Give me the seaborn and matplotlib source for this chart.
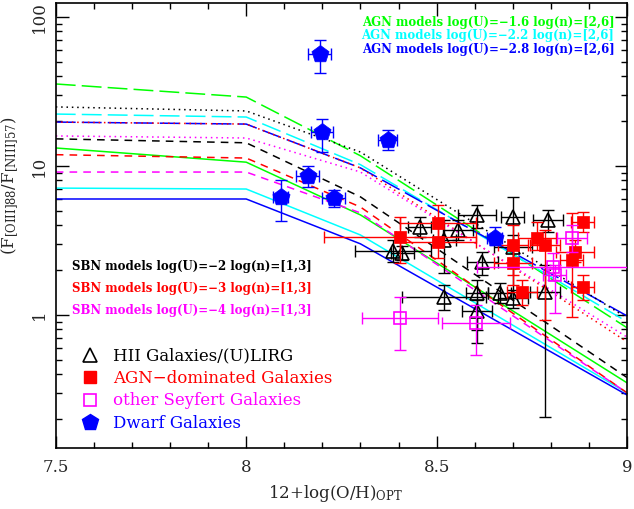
import numpy as np
import pandas as pd
import matplotlib.pyplot as plt
from matplotlib.lines import Line2D
from matplotlib.ticker import MultipleLocator, FixedLocator, FuncFormatter
import seaborn as sns

# =============================
# 1. MODEL TRACKS  F[OIII]88/F[NIII]57 vs 12+log(O/H)
# =============================
oh_grid = [7.5, 8.0, 8.3, 9.0]

agn_u16_n2 = [13.2, 10.6, 4.69, 0.35]
agn_u16_n6 = [35.5, 29.0, 11.7, 0.82]
agn_u22_n2 = [7.1, 7.0, 3.44, 0.30]
agn_u22_n6 = [22.3, 21.3, 10.2, 0.90]
agn_u28_n2 = [6.0, 6.0, 3.0, 0.29]
agn_u28_n6 = [19.7, 19.1, 9.7, 0.985]
sbn_u2_n1 = [15.2, 14.3, 6.2, 0.38]
sbn_u2_n3 = [24.9, 23.4, 12.4, 0.955]
sbn_u3_n1 = [11.9, 11.3, 5.3, 0.30]
sbn_u3_n3 = [19.7, 19.1, 9.7, 0.66]
sbn_u4_n1 = [9.1, 9.1, 4.84, 0.30]
sbn_u4_n3 = [15.9, 15.4, 9.1, 0.71]

# =============================
# 2. OBSERVED GALAXIES
# =============================
# HII galaxies / (U)LIRGs
hii_oh = [8.385, 8.41, 8.52, 8.606, 8.556, 8.70, 8.792, 8.70, 8.62, 8.666, 8.70, 8.785, 8.606, 8.606, 8.52, 8.456]
hii_ratio = [2.7, 2.6, 1.32, 4.69, 3.72, 4.54, 4.34, 2.86, 2.27, 1.40, 1.30, 1.43, 1.40, 1.06, 3.18, 3.9]
hii_oh_err = [0.1, 0.03, 0.11, 0.05, 0.04, 0.03, 0.04, 0.05, 0.04, 0.03, 0.04, 0.04, 0.03, 0.04, 0.03, 0.03]
hii_lo = [2.27, 2.35, 1.08, 3.84, 3.19, 1.30, 3.6, 2.34, 1.86, 1.2, 1.11, 0.207, 0.65, 0.79, 1.91, 3.34]
hii_hi = [3.19, 2.9, 1.59, 5.47, 4.34, 6.19, 5.07, 3.44, 2.65, 1.64, 1.47, 2.17, 1.72, 1.26, 4.34, 4.55]

# AGN-dominated galaxies
agn_oh = [8.404, 8.503, 8.503, 8.70, 8.70, 8.763, 8.784, 8.724, 8.884, 8.863, 8.855, 8.884]
agn_ratio = [3.34, 4.15, 3.09, 2.95, 2.23, 3.28, 2.95, 1.43, 4.2, 2.65, 2.34, 1.54]
agn_oh_err = [0.2, 0.1, 0.1, 0.04, 0.05, 0.05, 0.04, 0.04, 0.03, 0.05, 0.03, 0.03]
agn_lo = [2.23, 3.19, 2.41, 1.86, 1.59, 2.73, 0.93, 1.17, 3.6, 2.27, 0.97, 1.26]
agn_hi = [4.55, 5.47, 3.83, 4.0, 2.95, 4.2, 3.72, 1.72, 4.91, 3.19, 4.84, 1.86]

# other Seyfert galaxies
sey_oh = [8.404, 8.603, 8.806, 8.855, 8.81]
sey_ratio = [0.955, 0.88, 2.1, 3.28, 1.86]
sey_oh_err = [0.1, 0.09, 0.2, 0.04, 0.03]
sey_lo = [0.58, 0.54, 1.72, 2.65, 1.03]
sey_hi = [1.32, 1.17, 2.6, 4.0, 2.17]

# dwarf galaxies
dw_oh = [8.193, 8.199, 8.372, 8.162, 8.091, 8.230, 8.653]
dw_ratio = [56.5, 16.9, 14.9, 8.6, 6.2, 6.1, 3.3]
dw_oh_err = [0.03, 0.03, 0.025, 0.03, 0.02, 0.03, 0.02]
dw_lo = [42, 12.4, 12.8, 7.2, 4.3, 5.3, 2.95]
dw_hi = [70, 20.7, 17.4, 10.0, 8.0, 6.9, 3.9]

# =============================
# 3. TABLE FOR SEABORN
# =============================
tracks = {
    "agn_u16_n2": agn_u16_n2, "agn_u16_n6": agn_u16_n6,
    "agn_u22_n2": agn_u22_n2, "agn_u22_n6": agn_u22_n6,
    "agn_u28_n2": agn_u28_n2, "agn_u28_n6": agn_u28_n6,
    "sbn_u2_n1": sbn_u2_n1, "sbn_u2_n3": sbn_u2_n3,
    "sbn_u3_n1": sbn_u3_n1, "sbn_u3_n3": sbn_u3_n3,
    "sbn_u4_n1": sbn_u4_n1, "sbn_u4_n3": sbn_u4_n3,
}
models = pd.concat(
    [pd.DataFrame({"oh": oh_grid, "ratio": v, "model": k}) for k, v in tracks.items()],
    ignore_index=True,
)

GREEN, CYAN, BLUE = "#00ff00", "#00ffff", "#0000ff"
RED, MAGENTA, BLACK = "#ff0000", "#ff00ff", "#000000"

cores = {
    "agn_u16_n2": GREEN, "agn_u16_n6": GREEN,
    "agn_u22_n2": CYAN, "agn_u22_n6": CYAN,
    "agn_u28_n2": BLUE, "agn_u28_n6": BLUE,
    "sbn_u2_n1": BLACK, "sbn_u2_n3": BLACK,
    "sbn_u3_n1": RED, "sbn_u3_n3": RED,
    "sbn_u4_n1": MAGENTA, "sbn_u4_n3": MAGENTA,
}
tracos = {}
for k in tracks:
    if k.startswith("agn"):
        tracos[k] = "" if k.endswith("n2") else (13, 4)
    else:
        tracos[k] = (5, 4) if k.endswith("n1") else (1, 2.5)

# =============================
# 4. FIGURE
# =============================
sns.set_theme(style="ticks")
plt.rcParams["font.family"] = ["DejaVu Serif"]
plt.rcParams["mathtext.fontset"] = "dejavuserif"

fig = plt.figure(figsize=(6.34, 5.09), dpi=100)
ax = fig.add_axes([0.088, 0.120, 0.901, 0.874])
ax.set_yscale("log")

sns.lineplot(data=models, x="oh", y="ratio", hue="model", style="model",
             palette=cores, dashes=tracos, legend=False, lw=1.1, ax=ax)


def grupo(x, y, xerr, lo, hi, color, marker, ms, filled, z):
    x = np.array(x)
    y = np.array(y)
    yerr = [y - np.array(lo), np.array(hi) - y]
    ax.errorbar(x, y, xerr=xerr, yerr=yerr, fmt="none", ecolor=color,
                elinewidth=1.0, capsize=4, capthick=1.0, zorder=z)
    if filled:
        sns.scatterplot(x=x, y=y, marker=marker, s=ms ** 2, color=color,
                        edgecolor=color, linewidth=0.5, ax=ax, zorder=z + 0.5)
    else:
        ax.plot(x, y, ls="none", marker=marker, ms=ms, mfc="none",
                mec=color, mew=1.2, zorder=z + 0.5)


grupo(hii_oh, hii_ratio, hii_oh_err, hii_lo, hii_hi, BLACK, "^", 10, False, 3)
grupo(agn_oh, agn_ratio, agn_oh_err, agn_lo, agn_hi, RED, "s", 8.5, True, 4)
grupo(sey_oh, sey_ratio, sey_oh_err, sey_lo, sey_hi, MAGENTA, "s", 9, False, 5)
grupo(dw_oh, dw_ratio, dw_oh_err, dw_lo, dw_hi, BLUE, "p", 13, True, 6)

# eixos
ax.set_xlim(7.5, 9.0)
ax.set_ylim(0.128, 124)
ax.xaxis.set_major_locator(MultipleLocator(0.5))
ax.xaxis.set_minor_locator(MultipleLocator(0.1))
ax.xaxis.set_major_formatter(FuncFormatter(lambda v, p: f"{v:g}"))
ax.yaxis.set_major_locator(FixedLocator([1, 10, 100]))
ax.yaxis.set_major_formatter(FuncFormatter(lambda v, p: f"{v:g}"))
ax.tick_params(which="both", direction="in", top=True, right=True,
               width=1.0, labelsize=12, color="black")
ax.tick_params(which="major", length=9)
ax.tick_params(which="minor", length=4.5)
ax.tick_params(axis="x", pad=8)
ax.tick_params(axis="y", pad=6)
for lbl in ax.get_yticklabels():
    lbl.set_rotation(90)
    lbl.set_va("center")
for s in ax.spines.values():
    s.set_linewidth(1.2)
    s.set_color("black")

ax.set_xlabel(r"12+log(O/H)$_{\mathrm{OPT}}$", fontsize=12)
ax.set_ylabel(r"(F$_{\mathrm{[OIII]88}}$/F$_{\mathrm{[NIII]57}}$)", fontsize=12)
ax.yaxis.set_label_coords(-0.06, 0.59)
ax.xaxis.set_label_coords(0.49, -0.078)

# textos dos modelos
agn_txt = [("AGN models log(U)=\u22121.6 log(n)=[2,6]", GREEN, 0.957),
           ("AGN models log(U)=\u22122.2 log(n)=[2,6]", CYAN, 0.928),
           ("AGN models log(U)=\u22122.8 log(n)=[2,6]", BLUE, 0.895)]
for t, c, yy in agn_txt:
    ax.text(0.978, yy, t, color=c, ha="right", va="center", fontsize=8.5,
            fontweight="bold", transform=ax.transAxes)

sbn_txt = [("SBN models log(U)=\u22122 log(n)=[1,3]", BLACK, 0.407),
           ("SBN models log(U)=\u22123 log(n)=[1,3]", RED, 0.358),
           ("SBN models log(U)=\u22124 log(n)=[1,3]", MAGENTA, 0.308)]
for t, c, yy in sbn_txt:
    ax.text(0.028, yy, t, color=c, ha="left", va="center", fontsize=8.5,
            fontweight="bold", transform=ax.transAxes)

# legenda
handles = [
    Line2D([], [], ls="none", marker="^", ms=10, mfc="none", mec=BLACK, mew=1.2,
           label="HII Galaxies/(U)LIRG"),
    Line2D([], [], ls="none", marker="s", ms=8.5, mfc=RED, mec=RED,
           label="AGN\u2212dominated Galaxies"),
    Line2D([], [], ls="none", marker="s", ms=8.5, mfc="none", mec=MAGENTA, mew=1.2,
           label="other Seyfert Galaxies"),
    Line2D([], [], ls="none", marker="p", ms=12, mfc=BLUE, mec=BLUE,
           label="Dwarf Galaxies"),
]
leg = ax.legend(handles=handles, loc="upper left", bbox_to_anchor=(0.045, 0.225),
                frameon=False, fontsize=12, handlelength=1.0, handletextpad=0.9,
                labelspacing=0.32, borderaxespad=0, borderpad=0)
for t, c in zip(leg.get_texts(), [BLACK, RED, MAGENTA, BLUE]):
    t.set_color(c)

plt.savefig("out.png", dpi=100)
plt.close()
